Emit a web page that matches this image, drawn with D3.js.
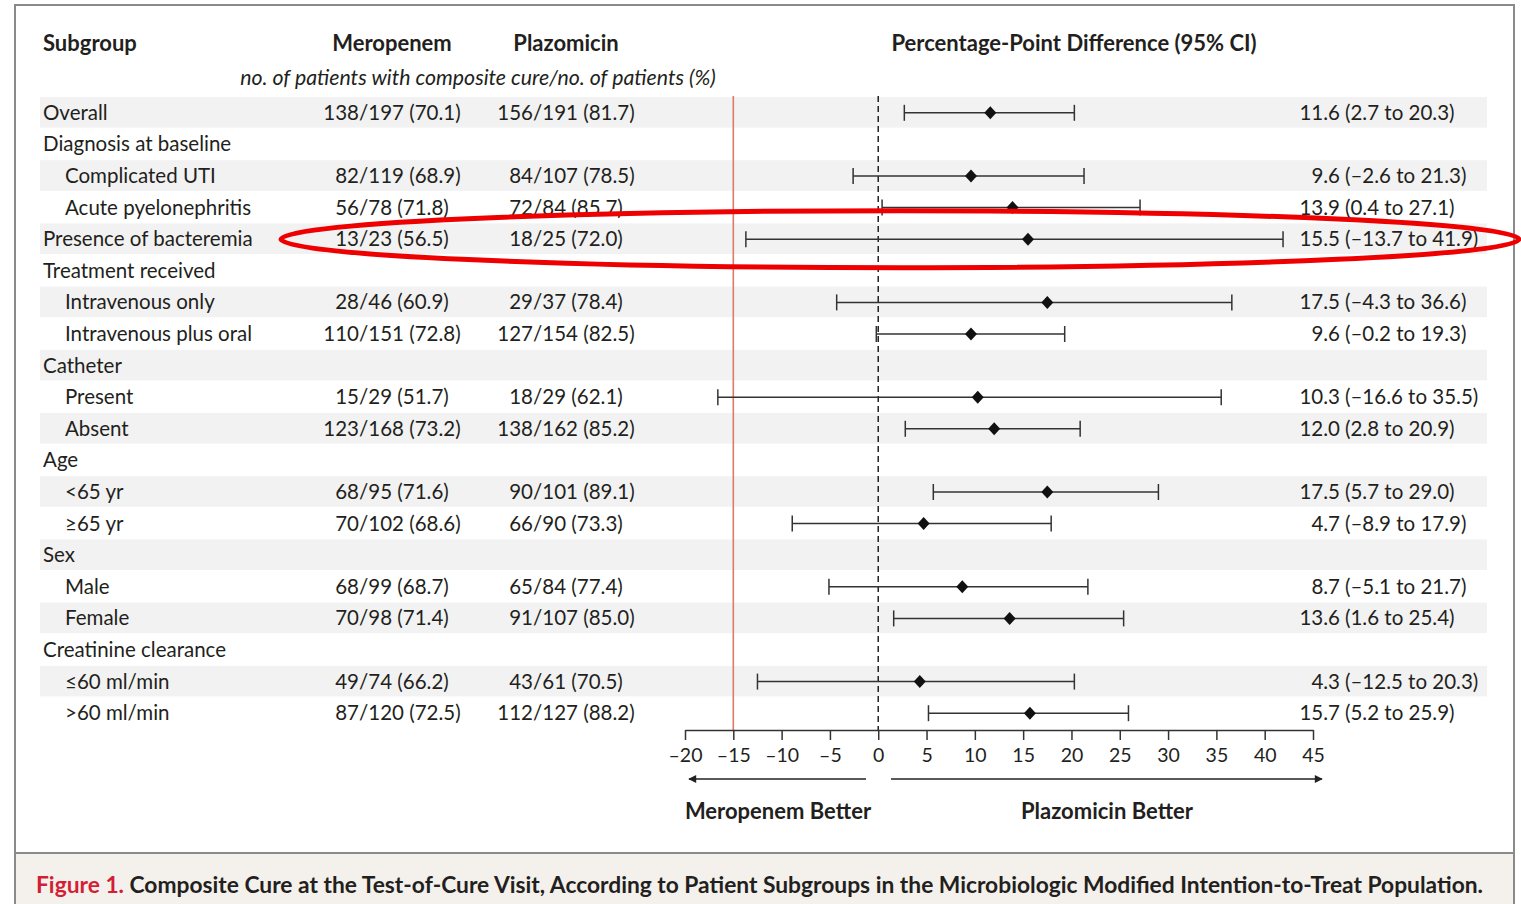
<!DOCTYPE html>
<html>
<head>
<meta charset="utf-8">
<script src="https://cdn.jsdelivr.net/npm/d3@7"></script>
<style>
  html, body { margin: 0; padding: 0; background: #fff; }
  svg { display: block; }
  text { font-family: Lato, "Open Sans", sans-serif; fill: #231f20; }
</style>
</head>
<body>
<svg id="chart" width="1521" height="904"></svg>
<script>
// ---------------- DATA ----------------
const subgroups = ["Overall", "Diagnosis at baseline", "Complicated UTI", "Acute pyelonephritis",
  "Presence of bacteremia", "Treatment received", "Intravenous only", "Intravenous plus oral",
  "Catheter", "Present", "Absent", "Age", "<65 yr", "\u226565 yr", "Sex", "Male", "Female",
  "Creatinine clearance", "\u226460 ml/min", ">60 ml/min"];
const indent = [0,0,1,1,0,0,1,1,0,1,1,0,1,1,0,1,1,0,1,1];
const merCured = [138,null,82,56,13,null,28,110,null,15,123,null,68,70,null,68,70,null,49,87];
const merTotal = [197,null,119,78,23,null,46,151,null,29,168,null,95,102,null,99,98,null,74,120];
const merPct   = [70.1,null,68.9,71.8,56.5,null,60.9,72.8,null,51.7,73.2,null,71.6,68.6,null,68.7,71.4,null,66.2,72.5];
const plzCured = [156,null,84,72,18,null,29,127,null,18,138,null,90,66,null,65,91,null,43,112];
const plzTotal = [191,null,107,84,25,null,37,154,null,29,162,null,101,90,null,84,107,null,61,127];
const plzPct   = [81.7,null,78.5,85.7,72.0,null,78.4,82.5,null,62.1,85.2,null,89.1,73.3,null,77.4,85.0,null,70.5,88.2];
const diffEst  = [11.6,null,9.6,13.9,15.5,null,17.5,9.6,null,10.3,12.0,null,17.5,4.7,null,8.7,13.6,null,4.3,15.7];
const diffLo   = [2.7,null,-2.6,0.4,-13.7,null,-4.3,-0.2,null,-16.6,2.8,null,5.7,-8.9,null,-5.1,1.6,null,-12.5,5.2];
const diffHi   = [20.3,null,21.3,27.1,41.9,null,36.6,19.3,null,35.5,20.9,null,29.0,17.9,null,21.7,25.4,null,20.3,25.9];
const xTicks   = [-20,-15,-10,-5,0,5,10,15,20,25,30,35,40,45];
const refLine  = -15;
const highlighted = "Presence of bacteremia";

// ---------------- LAYOUT ----------------
const svg = d3.select("#chart");
const ink = "#231f20";
const fmt = v => (v < 0 ? "\u2013" + Math.abs(v).toFixed(1) : v.toFixed(1));
const fmtTick = v => (v < 0 ? "\u2013" + Math.abs(v) : String(v));

const x = d3.scaleLinear().domain([-20, 45]).range([685, 1313]);
const y = d3.scaleBand().domain(subgroups).range([97, 729]).padding(0);
const yc = s => y(s) + y.bandwidth() / 2;

// frame
svg.append("rect").attr("x", 15).attr("y", 5).attr("width", 1499).attr("height", 848)
  .attr("fill", "#fff").attr("stroke", "#8a8a8a").attr("stroke-width", 2);
svg.append("rect").attr("x", 15).attr("y", 853).attr("width", 1499).attr("height", 60)
  .attr("fill", "#f4f1ec").attr("stroke", "#8a8a8a").attr("stroke-width", 2);

// stripes
svg.append("g").selectAll("rect").data(subgroups.filter((d, i) => i % 2 === 0)).join("rect")
  .attr("x", 40).attr("width", 1447)
  .attr("y", d => y(d)).attr("height", y.bandwidth() - 1)
  .attr("fill", "#f2f2f2");

// headers
const hdr = svg.append("g").attr("font-weight", "bold").attr("font-size", 22);
hdr.append("text").attr("x", 43).attr("y", 51).text("Subgroup");
hdr.append("text").attr("x", 392).attr("y", 51).attr("text-anchor", "middle").text("Meropenem");
hdr.append("text").attr("x", 566).attr("y", 51).attr("text-anchor", "middle").text("Plazomicin");
hdr.append("text").attr("x", 1074).attr("y", 51).attr("text-anchor", "middle").text("Percentage-Point Difference (95% CI)");
svg.append("text").attr("x", 478).attr("y", 85).attr("text-anchor", "middle")
  .attr("font-style", "italic").attr("font-size", 21.3)
  .text("no. of patients with composite cure/no. of patients (%)");

// rows
const rows = svg.append("g").attr("font-size", 20.5);
subgroups.forEach((s, i) => {
  const cy = yc(s) + 7;
  rows.append("text").attr("x", indent[i] ? 65 : 43).attr("y", cy).text(s);
  if (merCured[i] != null) {
    rows.append("text").attr("x", 359).attr("y", cy).attr("text-anchor", "end").text(merCured[i]);
    rows.append("text").attr("x", 359).attr("y", cy).text("/" + merTotal[i] + " (" + merPct[i].toFixed(1) + ")");
    rows.append("text").attr("x", 533).attr("y", cy).attr("text-anchor", "end").text(plzCured[i]);
    rows.append("text").attr("x", 533).attr("y", cy).text("/" + plzTotal[i] + " (" + plzPct[i].toFixed(1) + ")");
    rows.append("text").attr("x", 1340).attr("y", cy).attr("text-anchor", "end").text(fmt(diffEst[i]));
    rows.append("text").attr("x", 1345).attr("y", cy)
      .text("(" + fmt(diffLo[i]) + " to " + fmt(diffHi[i]) + ")");
  }
});

// reference lines
svg.append("line").attr("x1", x(refLine)).attr("x2", x(refLine)).attr("y1", 96).attr("y2", 730)
  .attr("stroke", "#e07a68").attr("stroke-width", 1.6);
svg.append("line").attr("x1", x(0)).attr("x2", x(0)).attr("y1", 96).attr("y2", 730)
  .attr("stroke", "#222").attr("stroke-width", 1.5).attr("stroke-dasharray", "6,4");

// CIs
const ciG = svg.append("g").attr("stroke", "#333").attr("stroke-width", 1.5);
subgroups.forEach((s, i) => {
  if (diffEst[i] == null) return;
  const cy = yc(s);
  ciG.append("line").attr("x1", x(diffLo[i])).attr("x2", x(diffHi[i])).attr("y1", cy).attr("y2", cy);
  ciG.append("line").attr("x1", x(diffLo[i])).attr("x2", x(diffLo[i])).attr("y1", cy - 8).attr("y2", cy + 8);
  ciG.append("line").attr("x1", x(diffHi[i])).attr("x2", x(diffHi[i])).attr("y1", cy - 8).attr("y2", cy + 8);
  const px = x(diffEst[i]);
  svg.append("path").attr("d", `M${px},${cy - 6.5}L${px + 6},${cy}L${px},${cy + 6.5}L${px - 6},${cy}Z`)
    .attr("fill", "#111");
});

// axis
const axis = d3.axisBottom(x).tickValues(xTicks).tickFormat(fmtTick).tickSize(10).tickSizeOuter(0);
const ax = svg.append("g").attr("transform", "translate(0,730)").call(axis);
ax.select(".domain").attr("stroke", "#333").attr("stroke-width", 1.5);
ax.selectAll(".tick line").attr("stroke", "#333").attr("stroke-width", 1.5);
ax.selectAll(".tick text").attr("font-size", 19.5).attr("font-family", "Lato, sans-serif")
  .attr("fill", ink).attr("dy", "0.95em");

// arrows
svg.append("defs").append("marker").attr("id", "ah").attr("viewBox", "0 0 10 10")
  .attr("refX", 9).attr("refY", 5).attr("markerWidth", 12).attr("markerHeight", 8)
  .attr("markerUnits", "userSpaceOnUse").attr("orient", "auto")
  .append("path").attr("d", "M0,0L10,5L0,10Z").attr("fill", "#222");
svg.append("line").attr("x1", 866).attr("x2", 689).attr("y1", 779).attr("y2", 779)
  .attr("stroke", "#222").attr("stroke-width", 1.6).attr("marker-end", "url(#ah)");
svg.append("line").attr("x1", 891).attr("x2", 1322).attr("y1", 779).attr("y2", 779)
  .attr("stroke", "#222").attr("stroke-width", 1.6).attr("marker-end", "url(#ah)");
const better = svg.append("g").attr("font-weight", "bold").attr("font-size", 22).attr("text-anchor", "middle");
better.append("text").attr("x", 778).attr("y", 819).text("Meropenem Better");
better.append("text").attr("x", 1107).attr("y", 819).text("Plazomicin Better");

// highlight ellipse
svg.append("ellipse").attr("cx", 900).attr("cy", yc(highlighted)).attr("rx", 619).attr("ry", 28.5)
  .attr("fill", "none").attr("stroke", "#ee0000").attr("stroke-width", 5);

// caption
const cap = svg.append("text").attr("x", 36).attr("y", 893).attr("font-weight", "bold").attr("font-size", 23)
  .attr("textLength", 1447).attr("lengthAdjust", "spacingAndGlyphs");
cap.append("tspan").attr("fill", "#d21f35").text("Figure 1. ");
cap.append("tspan").text("Composite Cure at the Test-of-Cure Visit, According to Patient Subgroups in the Microbiologic Modified Intention-to-Treat Population.");
</script>
</body>
</html>
